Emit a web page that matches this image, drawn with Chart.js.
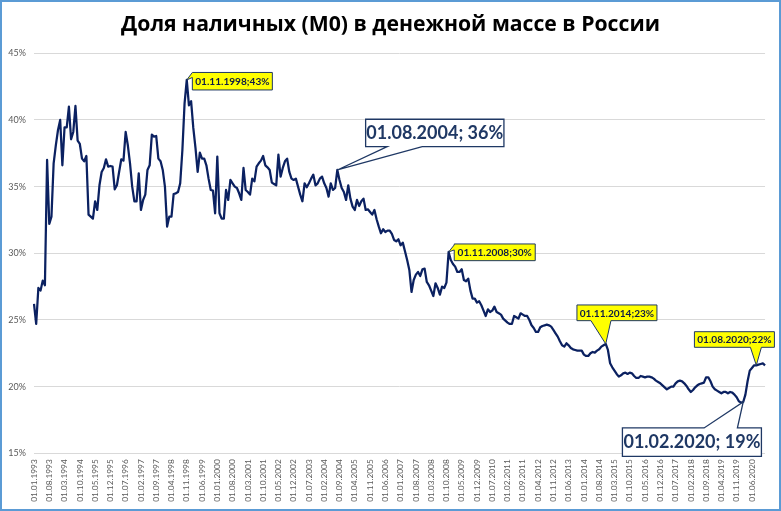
<!DOCTYPE html>
<html><head><meta charset="utf-8">
<script src="https://cdn.jsdelivr.net/npm/chart.js@4.4.1/dist/chart.umd.min.js"></script>
<style>html,body{margin:0;padding:0;background:#fff;}#wrap{width:781px;height:511px;position:relative;}</style>
</head><body><div id="wrap"><canvas id="c" width="781" height="511"></canvas></div>
<script>
const chartTitle = 'Доля наличных (М0) в денежной массе в России';
const firstYear = 1993;
// monthly share of cash (M0) in money supply, %, from 01.01.1993
const shareM0 = [
26.2,24.7,27.4,27.2,27.95,27.6,37.0,32.2,32.75,36.75,
38.1,39.25,40.0,36.6,39.45,39.45,41.0,38.55,39.1,41.05,
38.45,38.2,37.1,36.9,37.3,32.9,32.75,32.6,33.9,33.25,
35.1,36.1,36.4,37.05,36.5,36.55,36.5,34.8,35.1,36.1,
37.05,36.95,39.1,38.1,36.75,35.0,33.9,33.9,36.0,33.25,
34.0,34.4,36.25,36.6,38.9,38.75,38.8,37.1,36.9,36.25,
35.0,32.0,32.75,32.75,34.45,34.5,34.6,35.25,37.75,41.25,
43.0,41.1,41.4,39.4,37.9,36.1,37.55,37.1,37.1,36.6,
35.6,34.75,34.7,33.0,37.25,33.0,32.6,32.6,34.75,34.0,
35.5,35.25,35.0,34.9,34.5,34.0,36.4,34.75,34.6,34.4,
35.6,35.4,36.5,36.75,36.95,37.3,36.6,36.45,36.25,35.3,
35.2,35.1,37.4,35.75,36.4,36.9,37.1,36.1,35.6,35.5,
35.6,35.0,34.4,33.9,35.25,34.95,35.25,35.6,35.9,35.1,
35.25,35.6,35.75,35.25,34.9,34.25,35.25,34.75,34.9,36.25,
35.5,34.9,34.6,34.0,35.1,34.1,33.5,33.25,34.0,33.55,
33.9,34.1,33.25,33.3,33.1,32.9,33.25,32.55,32.0,31.5,
31.8,31.6,31.7,31.7,31.45,31.0,30.9,31.05,30.6,30.8,
30.15,29.5,28.75,27.1,28.0,28.4,28.6,28.3,28.8,28.85,
27.85,27.6,27.2,26.8,27.75,27.4,26.9,27.5,27.4,27.8,
30.1,29.5,29.2,29.0,28.6,28.6,28.8,28.0,27.9,28.1,
27.2,26.6,26.6,26.3,26.4,26.1,25.7,25.3,25.8,25.6,
25.7,26.0,25.6,25.5,25.4,25.1,24.95,24.8,24.7,24.7,
25.3,25.2,25.1,25.5,25.4,25.3,25.3,25.0,24.6,24.4,
24.1,24.1,24.45,24.55,24.6,24.65,24.6,24.5,24.25,24.0,
23.75,23.4,23.1,23.0,23.25,23.1,22.9,22.8,22.75,22.7,
22.7,22.7,22.4,22.3,22.3,22.5,22.6,22.55,22.7,22.8,
23.0,23.1,23.2,22.75,21.75,21.45,21.2,20.95,20.75,20.85,
21.0,21.05,20.95,21.05,21.0,20.8,20.65,20.65,20.8,20.75,
20.7,20.75,20.75,20.7,20.6,20.45,20.35,20.25,20.1,19.95,
19.8,19.9,20.0,20.0,20.25,20.4,20.45,20.4,20.25,20.05,
19.8,19.6,19.75,19.95,20.1,20.2,20.25,20.3,20.7,20.7,
20.4,20.0,19.8,19.7,19.6,19.5,19.6,19.6,19.5,19.6,
19.55,19.4,19.2,18.9,18.8,18.85,19.4,20.4,21.2,21.4,
21.6,21.6,21.65,21.7,21.75,21.6
];
const categories = [];
for (let k = 0; k < shareM0.length; k++) {
  const m = k % 12 + 1, y = firstYear + Math.floor(k / 12);
  categories.push('01.' + String(m).padStart(2, '0') + '.' + y);
}
const yTickValues = [15, 20, 25, 30, 35, 40, 45];
const labelEvery = 7;
const calloutDates = ['01.11.1998', '01.08.2004', '01.11.2008', '01.11.2014', '01.08.2020', '01.02.2020'];
const calloutTexts = ['01.11.1998;43%', '01.08.2004; 36%', '01.11.2008;30%', '01.11.2014;23%', '01.08.2020;22%', '01.02.2020; 19%'];
// geometry of each callout relative to its data point
const calloutGeom = [
  {kind:'small', dx:5.6, dy:-7.5, w:80, h:17.5, edge:'left', b1:0, b2:5},
  {kind:'big', dx:28.3, dy:-50.7, w:138.3, h:27.4, edge:'bottom', b1:21.6, b2:56.6},
  {kind:'small', dx:5.6, dy:-8, w:81, h:16.7, edge:'left', b1:1, b2:6},
  {kind:'small', dx:-28.8, dy:-39, w:80, h:15.7, edge:'bottom', b1:14, b2:34},
  {kind:'small', dx:-61.9, dy:-33.6, w:80, h:15.6, edge:'bottom', b1:56, b2:67},
  {kind:'big', dx:-120.8, dy:26, w:139, h:28.4, edge:'top', b1:81.7, b2:115}
];

const calloutPlugin = {
  id: 'callouts',
  beforeDraw(chart) {
    const ctx = chart.ctx;
    ctx.save();
    ctx.fillStyle = '#fff'; ctx.fillRect(0, 0, chart.width, chart.height);
    ctx.fillStyle = '#000';
    ctx.font = 'bold 21.2px "Open Sans"';
    ctx.textAlign = 'center';
    ctx.textBaseline = 'middle';
    ctx.fillText(chartTitle, chart.width / 2, 25);
    ctx.restore();
  },
  afterDatasetsDraw(chart) {
    const ctx = chart.ctx, xs = chart.scales.x, ys = chart.scales.y;
    calloutDates.forEach((d, n) => {
      const idx = categories.indexOf(d);
      const g = calloutGeom[n];
      const ax = xs.getPixelForValue(idx), ay = ys.getPixelForValue(shareM0[idx]);
      const L = ax + g.dx, T = ay + g.dy, R = L + g.w, B = T + g.h;
      ctx.save();
      ctx.beginPath();
      if (g.edge === 'bottom') {
        ctx.moveTo(L, T); ctx.lineTo(R, T); ctx.lineTo(R, B); ctx.lineTo(L + g.b2, B);
        ctx.lineTo(ax, ay); ctx.lineTo(L + g.b1, B); ctx.lineTo(L, B);
      } else if (g.edge === 'top') {
        ctx.moveTo(L, T); ctx.lineTo(L + g.b1, T); ctx.lineTo(ax, ay); ctx.lineTo(L + g.b2, T);
        ctx.lineTo(R, T); ctx.lineTo(R, B); ctx.lineTo(L, B);
      } else {
        ctx.moveTo(L, T); ctx.lineTo(R, T); ctx.lineTo(R, B); ctx.lineTo(L, B);
        ctx.lineTo(L, T + g.b2); ctx.lineTo(ax, ay); ctx.lineTo(L, T + g.b1);
      }
      ctx.closePath();
      ctx.fillStyle = g.kind === 'small' ? '#FFFF00' : '#FFFFFF';
      ctx.fill();
      ctx.lineWidth = g.kind === 'small' ? 1 : 1.3;
      ctx.strokeStyle = '#1F3864';
      ctx.lineJoin = 'miter';
      ctx.stroke();
      ctx.fillStyle = g.kind === 'small' ? '#0D1A45' : '#1F3864';
      ctx.font = g.kind === 'small' ? 'bold 10.1px Lato' : 'bold 18px Lato';
      ctx.textAlign = 'center';
      ctx.textBaseline = 'middle';
      ctx.fillText(calloutTexts[n], (L + R) / 2, (T + B) / 2 + 0.5);
      ctx.restore();
    });
  },
  afterDraw(chart) {
    const ctx = chart.ctx;
    ctx.save();
    ctx.strokeStyle = '#5B9BD5';
    ctx.lineWidth = 2;
    ctx.strokeRect(1, 1, 779, 509);
    ctx.restore();
  }
};

new Chart(document.getElementById('c'), {
  type: 'line',
  data: {
    labels: categories,
    datasets: [{
      data: shareM0,
      borderColor: '#0B2161',
      borderWidth: 2.25,
      pointRadius: 0,
      tension: 0,
      borderJoinStyle: 'round',
      fill: false
    }]
  },
  options: {
    responsive: false,
    animation: false,
    devicePixelRatio: 1,
    layout: { padding: { left: 0, right: 13, top: 53.3, bottom: 0 } },
    plugins: {
      legend: { display: false },
      tooltip: { enabled: false },
      title: { display: false }
    },
    scales: {
      x: {
        type: 'category',
        offset: false,
        grid: { display: false, drawTicks: false },
        border: { display: false },
        ticks: {
          autoSkip: false,
          maxRotation: 90,
          minRotation: 90,
          padding: 6,
          color: '#595959',
          font: { family: 'Lato', size: 8.3 },
          callback: (v, i) => (i % labelEvery === 0 ? categories[i] : '')
        },
        afterFit: s => { s.height = 57.7; }
      },
      y: {
        min: 15,
        max: 45,
        afterBuildTicks: s => { s.ticks = yTickValues.map(v => ({ value: v })); },
        grid: { color: '#D9D9D9', lineWidth: 1, drawTicks: false },
        border: { display: false },
        ticks: {
          padding: 8,
          color: '#595959',
          font: { family: 'Lato', size: 9 },
          callback: v => v + '%'
        },
        afterFit: s => { s.width = 34; }
      }
    }
  },
  plugins: [calloutPlugin]
});
</script>
</body></html>
